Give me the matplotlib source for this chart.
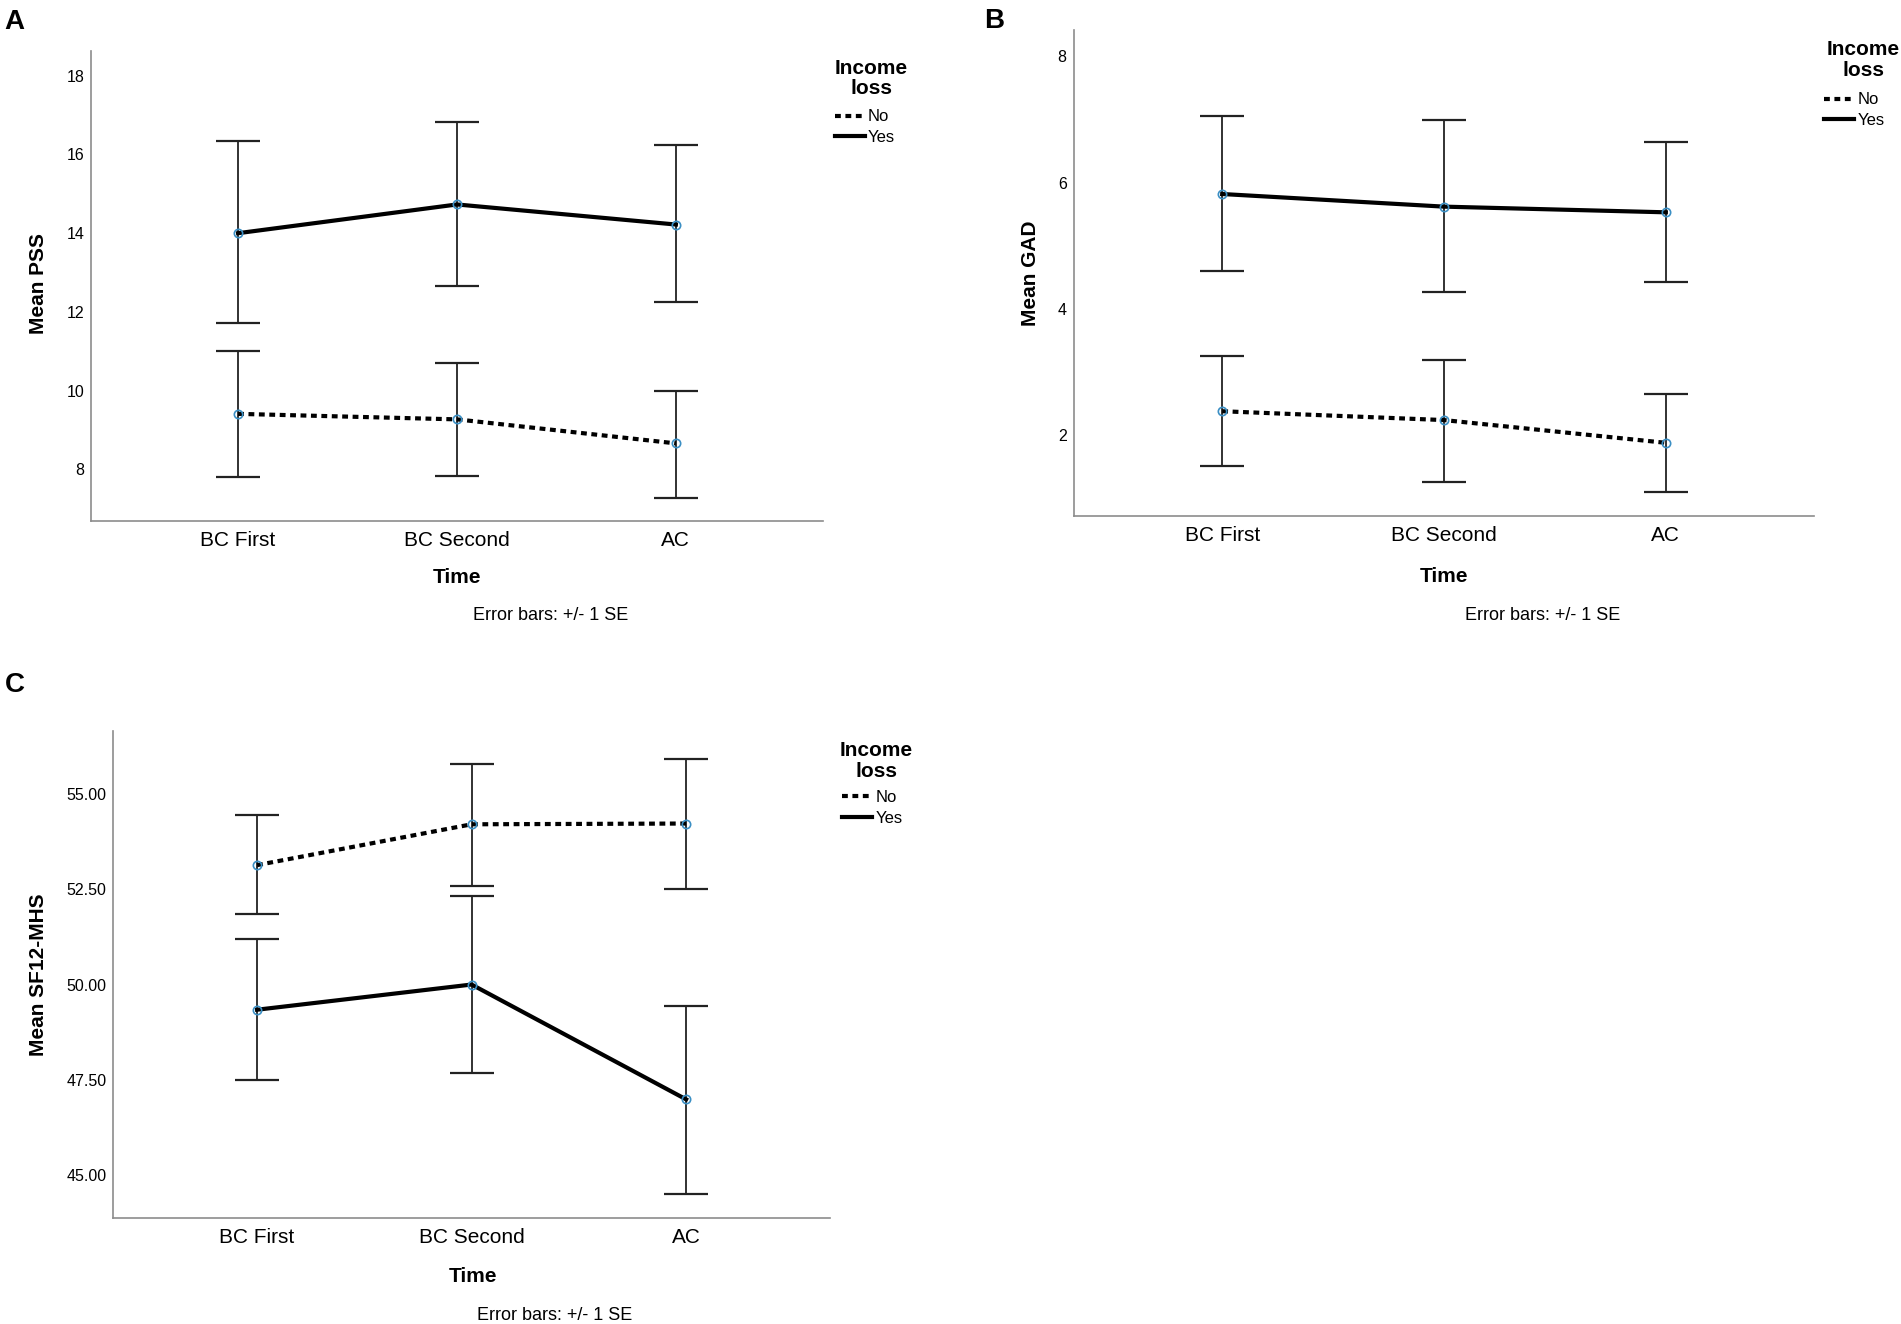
import matplotlib
matplotlib.use("Agg")
import matplotlib.pyplot as plt
from matplotlib.lines import Line2D

plt.rcParams['font.family'] = ['Liberation Sans', 'DejaVu Sans']

# x categories
times = ["BC First", "BC Second", "AC"]
groups = ["No", "Yes"]

# panel A - PSS (mean, lower SE, upper SE)
pss_no = [9.41, 9.27, 8.66]
pss_no_lo = [7.81, 7.82, 7.27]
pss_no_hi = [11.00, 10.70, 10.00]
pss_yes = [14.00, 14.73, 14.22]
pss_yes_lo = [11.71, 12.65, 12.25]
pss_yes_hi = [16.35, 16.82, 16.23]

# panel B - GAD
gad_no = [2.38, 2.24, 1.88]
gad_no_lo = [1.52, 1.26, 1.10]
gad_no_hi = [3.25, 3.19, 2.66]
gad_yes = [5.82, 5.62, 5.53]
gad_yes_lo = [4.60, 4.27, 4.43]
gad_yes_hi = [7.06, 6.99, 6.64]

# panel C - SF12 MHS
mhs_no = [53.13, 54.20, 54.22]
mhs_no_lo = [51.85, 52.58, 52.50]
mhs_no_hi = [54.45, 55.79, 55.92]
mhs_yes = [49.34, 50.00, 46.99]
mhs_yes_lo = [47.49, 47.68, 44.52]
mhs_yes_hi = [51.19, 52.32, 49.45]

W, H = 1560.0, 1087.0  # reference layout grid


def fx(px):
    return px / W


def fy(py):
    return 1 - py / H


def box(left, top, right, bottom):
    return [fx(left), fy(bottom), fx(right) - fx(left), fy(top) - fy(bottom)]


LINE_W = 3.0
DOT = (0, (1.4, 1.1))
styles = {"No": DOT, "Yes": "-"}


def draw_panel(ax, series, ylim, yticks, fmt=None):
    x = list(range(len(times)))
    for name, (mean, lo, hi) in series.items():
        err = [[m - l for m, l in zip(mean, lo)], [h - m for m, h in zip(mean, hi)]]
        ax.errorbar(x, mean, yerr=err, fmt='none', ecolor='#222222',
                    elinewidth=1.3, capsize=16, capthick=1.6, zorder=2)
        ax.plot(x, mean, color='black', lw=LINE_W, linestyle=styles[name],
                dash_capstyle='butt', zorder=3)
        ax.plot(x, mean, 'o', mfc='none', mec='#3b8fc4', ms=6, mew=1.2, zorder=4)
    ax.set_xlim(-0.67, 2.67)
    ax.set_ylim(*ylim)
    ax.set_xticks(x)
    ax.set_xticklabels(times, fontsize=15)
    ax.set_yticks(yticks)
    if fmt:
        ax.set_yticklabels([fmt % v for v in yticks])
    ax.tick_params(axis='y', length=0, pad=5, labelsize=11.5)
    ax.tick_params(axis='x', length=0, pad=7)
    for s in ['top', 'right']:
        ax.spines[s].set_visible(False)
    for s in ['left', 'bottom']:
        ax.spines[s].set_color('#8c8c8c')
        ax.spines[s].set_linewidth(1.2)
    handles = [Line2D([], [], color='black', lw=LINE_W, linestyle=styles[g],
                      dash_capstyle='butt') for g in groups]
    return handles


def add_legend(ax, handles, title_x, title_y, left, top):
    # title as two centred lines, entries below
    fig.text(fx(title_x), fy(title_y), "Income", fontsize=15, fontweight='bold',
             ha='center', va='center')
    fig.text(fx(title_x), fy(title_y + 17), "loss", fontsize=15, fontweight='bold',
             ha='center', va='center')
    ax.legend(handles, groups, loc='upper left',
              bbox_to_anchor=(fx(left), fy(top)), bbox_transform=fig.transFigure,
              frameon=False, fontsize=12, handlelength=1.8, handletextpad=0.2,
              borderpad=0, labelspacing=0.32)


fig = plt.figure(figsize=(19.01, 13.24), dpi=100)

# A
axA = fig.add_axes(box(75, 41.5, 675, 428))
hA = draw_panel(axA, {"No": (pss_no, pss_no_lo, pss_no_hi),
                      "Yes": (pss_yes, pss_yes_lo, pss_yes_hi)},
                (6.68, 18.64), [8, 10, 12, 14, 16, 18])
add_legend(axA, hA, 715, 56, 678, 83)
fig.text(fx(12), fy(18), "A", fontsize=20, fontweight='bold', ha='center', va='center')
fig.text(fx(32), fy(233), "Mean PSS", fontsize=15, fontweight='bold', rotation=90,
         ha='center', va='center')
fig.text(fx(375), fy(474), "Time", fontsize=15, fontweight='bold', ha='center', va='center')
fig.text(fx(452), fy(505), "Error bars: +/- 1 SE", fontsize=13, ha='center', va='center')

# B
axB = fig.add_axes(box(881, 25, 1489, 424))
hB = draw_panel(axB, {"No": (gad_no, gad_no_lo, gad_no_hi),
                      "Yes": (gad_yes, gad_yes_lo, gad_yes_hi)},
                (0.714, 8.41), [2, 4, 6, 8])
add_legend(axB, hB, 1529, 41, 1490, 69)
fig.text(fx(816), fy(17), "B", fontsize=20, fontweight='bold', ha='center', va='center')
fig.text(fx(846), fy(224), "Mean GAD", fontsize=15, fontweight='bold', rotation=90,
         ha='center', va='center')
fig.text(fx(1185), fy(473), "Time", fontsize=15, fontweight='bold', ha='center', va='center')
fig.text(fx(1266), fy(505), "Error bars: +/- 1 SE", fontsize=13, ha='center', va='center')

# C
axC = fig.add_axes(box(93, 600, 681, 1000))
hC = draw_panel(axC, {"No": (mhs_no, mhs_no_lo, mhs_no_hi),
                      "Yes": (mhs_yes, mhs_yes_lo, mhs_yes_hi)},
                (43.88, 56.65), [45.0, 47.5, 50.0, 52.5, 55.0], fmt="%.2f")
add_legend(axC, hC, 719, 616, 684, 642)
fig.text(fx(12), fy(562), "C", fontsize=20, fontweight='bold', ha='center', va='center')
fig.text(fx(32), fy(800), "Mean SF12-MHS", fontsize=15, fontweight='bold', rotation=90,
         ha='center', va='center')
fig.text(fx(388), fy(1048), "Time", fontsize=15, fontweight='bold', ha='center', va='center')
fig.text(fx(455), fy(1080), "Error bars: +/- 1 SE", fontsize=13, ha='center', va='center')

fig.savefig("out.png", dpi=100)
